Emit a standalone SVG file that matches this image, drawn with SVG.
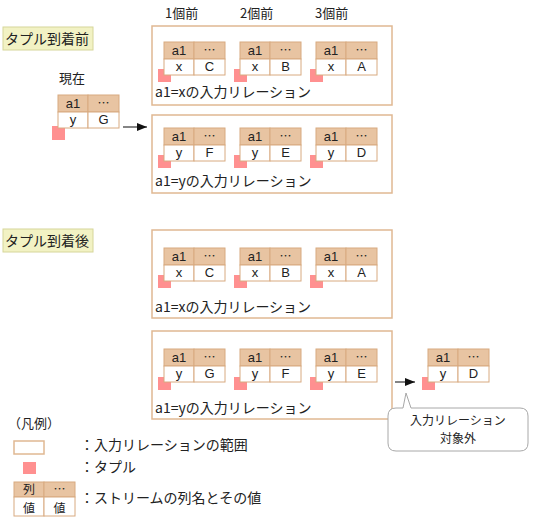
<svg xmlns="http://www.w3.org/2000/svg" width="533" height="519" viewBox="0 0 533 519">
<style>
text{font-family:"Noto Sans CJK JP","Liberation Sans",sans-serif;fill:#222;}
.lbl{font-size:14px;}
.hdr{font-size:13px;}
.sm{font-size:12px;}
.sec{fill:#f2f2c4;stroke:#d6d69a;stroke-width:1;}
.box{fill:#fff;stroke:#e0b892;stroke-width:1.5;}
.th{fill:#e8c4a2;stroke:#d8aa80;stroke-width:1;}
.td{fill:#fff;stroke:#d8aa80;stroke-width:1;}
.tup{fill:#ff9090;}
.cell{font-family:"Liberation Sans Narrow","Liberation Sans",sans-serif;font-size:13px;text-anchor:middle;}
.dots{font-family:"Noto Sans CJK JP",sans-serif;font-size:12px;text-anchor:middle;}
.conn{stroke:#333;stroke-width:1.2;fill:none;}
</style>
<defs>
<marker id="ah" markerWidth="10" markerHeight="8" refX="10" refY="4" orient="auto" markerUnits="userSpaceOnUse">
<path d="M0,0 L10,4 L0,8 z" fill="#111"/>
</marker>
<g id="tbl">
<rect class="th" x="0" y="0" width="30" height="17"/>
<rect class="th" x="30" y="0" width="31" height="17"/>
<rect class="td" x="0" y="17" width="30" height="16"/>
<rect class="td" x="30" y="17" width="31" height="16"/>
<text class="cell" x="15" y="13">a1</text>
<text class="dots" x="45.5" y="13">…</text>
</g>
</defs>

<!-- section labels -->
<g id="sec-before"><rect class="sec" x="3" y="27" width="90" height="23"/><text class="lbl" x="5" y="44">タプル到着前</text></g>
<g id="sec-after"><rect class="sec" x="3" y="229" width="90" height="23"/><text class="lbl" x="5" y="246">タプル到着後</text></g>

<!-- column titles -->
<g id="titles">
<text class="hdr" x="165" y="18">1個前</text>
<text class="hdr" x="240" y="18">2個前</text>
<text class="hdr" x="315" y="18">3個前</text>
</g>

<!-- current tuple -->
<g id="current">
<text class="hdr" x="59" y="83">現在</text>
<rect class="tup" x="52" y="126" width="13" height="14"/>
<use href="#tbl" x="58" y="95"/>
<text class="cell" x="73" y="124">y</text><text class="cell" x="103.5" y="124">G</text>
</g>

<!-- box 1 -->
<g id="rel-x-before">
<rect class="box" x="152" y="26" width="240" height="79"/>
<rect class="tup" x="158" y="69" width="13" height="13"/><use href="#tbl" x="164" y="42"/>
<text class="cell" x="179" y="71">x</text><text class="cell" x="209.5" y="71">C</text>
<rect class="tup" x="234" y="69" width="13" height="13"/><use href="#tbl" x="240" y="42"/>
<text class="cell" x="255" y="71">x</text><text class="cell" x="285.5" y="71">B</text>
<rect class="tup" x="310" y="69" width="13" height="13"/><use href="#tbl" x="316" y="42"/>
<text class="cell" x="331" y="71">x</text><text class="cell" x="361.5" y="71">A</text>
<text class="lbl" x="155" y="97">a1=xの入力リレーション</text>
</g>

<!-- box 2 -->
<g id="rel-y-before">
<rect class="box" x="152" y="115" width="240" height="78"/>
<rect class="tup" x="158" y="155" width="13" height="13"/><use href="#tbl" x="164" y="128"/>
<text class="cell" x="179" y="157">y</text><text class="cell" x="209.5" y="157">F</text>
<rect class="tup" x="234" y="155" width="13" height="13"/><use href="#tbl" x="240" y="128"/>
<text class="cell" x="255" y="157">y</text><text class="cell" x="285.5" y="157">E</text>
<rect class="tup" x="310" y="155" width="13" height="13"/><use href="#tbl" x="316" y="128"/>
<text class="cell" x="331" y="157">y</text><text class="cell" x="361.5" y="157">D</text>
<text class="lbl" x="155" y="186">a1=yの入力リレーション</text>
</g>

<!-- box 3 -->
<g id="rel-x-after">
<rect class="box" x="152" y="230" width="240" height="88"/>
<rect class="tup" x="158" y="275" width="13" height="13"/><use href="#tbl" x="164" y="248"/>
<text class="cell" x="179" y="277">x</text><text class="cell" x="209.5" y="277">C</text>
<rect class="tup" x="234" y="275" width="13" height="13"/><use href="#tbl" x="240" y="248"/>
<text class="cell" x="255" y="277">x</text><text class="cell" x="285.5" y="277">B</text>
<rect class="tup" x="310" y="275" width="13" height="13"/><use href="#tbl" x="316" y="248"/>
<text class="cell" x="331" y="277">x</text><text class="cell" x="361.5" y="277">A</text>
<text class="lbl" x="155" y="312">a1=xの入力リレーション</text>
</g>

<!-- box 4 -->
<g id="rel-y-after">
<rect class="box" x="152" y="331" width="240" height="88"/>
<rect class="tup" x="158" y="377" width="13" height="13"/><use href="#tbl" x="164" y="349"/>
<text class="cell" x="179" y="378">y</text><text class="cell" x="209.5" y="378">G</text>
<rect class="tup" x="234" y="377" width="13" height="13"/><use href="#tbl" x="240" y="349"/>
<text class="cell" x="255" y="378">y</text><text class="cell" x="285.5" y="378">F</text>
<rect class="tup" x="310" y="377" width="13" height="13"/><use href="#tbl" x="316" y="349"/>
<text class="cell" x="331" y="378">y</text><text class="cell" x="361.5" y="378">E</text>
<text class="lbl" x="155" y="413">a1=yの入力リレーション</text>
</g>

<!-- evicted tuple -->
<g id="evicted">
<rect class="tup" x="422" y="377" width="13" height="13"/><use href="#tbl" x="428" y="349"/>
<text class="cell" x="443" y="378">y</text><text class="cell" x="473.5" y="378">D</text>
</g>

<!-- callout -->
<g id="callout">
<path d="M396,408 L403,408 L406,393 L411,408 L520,408 Q528,408 528,416 L528,443 Q528,451 520,451 L396,451 Q388,451 388,443 L388,416 Q388,408 396,408 z" fill="#fff" stroke="#a8a8a8" stroke-width="1"/>
<text class="sm" x="458" y="425" text-anchor="middle">入力リレーション</text>
<text class="sm" x="458" y="443" text-anchor="middle">対象外</text>
</g>

<!-- connectors -->
<g id="connectors">
<line class="conn" x1="123" y1="127" x2="147" y2="127" marker-end="url(#ah)"/>
<line class="conn" x1="395" y1="382" x2="415" y2="382" marker-end="url(#ah)"/>
</g>

<!-- legend -->
<g id="legend">
<text class="hdr" x="8" y="428">（凡例）</text>
<rect class="box" x="14" y="441" width="30" height="13" stroke-width="1.2"/>
<text class="lbl" x="80" y="450">：入力リレーションの範囲</text>
<rect class="tup" x="23" y="462" width="13" height="12"/>
<text class="lbl" x="80" y="472">：タプル</text>
<rect class="th" x="14" y="482" width="30" height="15"/>
<rect class="th" x="44" y="482" width="31" height="15"/>
<rect class="td" x="14" y="497" width="30" height="19"/>
<rect class="td" x="44" y="497" width="31" height="19"/>
<text class="sm" x="29" y="494" text-anchor="middle">列</text>
<text class="dots" x="59.5" y="494">…</text>
<text class="sm" x="29" y="513" text-anchor="middle">値</text>
<text class="sm" x="59.5" y="513" text-anchor="middle">値</text>
<text class="lbl" x="80" y="503">：ストリームの列名とその値</text>
</g>
</svg>
